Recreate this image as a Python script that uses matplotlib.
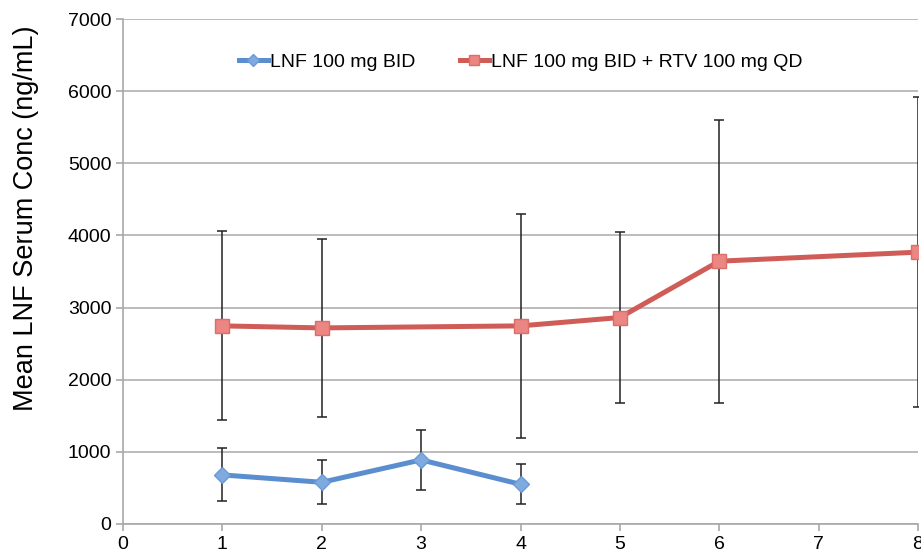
import matplotlib.pyplot as plt

plt.rcParams['font.family'] = ['Liberation Sans', 'DejaVu Sans']

# Data
x_lnf = [1, 2, 3, 4]
lnf = [680, 578, 888, 550]
lnf_hi = [1054, 883, 1300, 828]
lnf_lo = [323, 277, 467, 273]

x_rtv = [1, 2, 4, 5, 6, 8]
rtv = [2746, 2718, 2746, 2862, 3643, 3768]
rtv_hi = [4060, 3955, 4300, 4050, 5600, 5913]
rtv_lo = [1440, 1488, 1193, 1683, 1674, 1627]

lnf_err = [[m - lo for m, lo in zip(lnf, lnf_lo)], [hi - m for m, hi in zip(lnf, lnf_hi)]]
rtv_err = [[m - lo for m, lo in zip(rtv, rtv_lo)], [hi - m for m, hi in zip(rtv, rtv_hi)]]

fig = plt.figure(figsize=(9.21, 5.56), dpi=100)
ax = fig.add_axes([0.1336, 0.0576, 0.8631, 0.9082])

# Error bars first, then the lines on top
ax.errorbar(x_lnf, lnf, yerr=lnf_err, fmt='none', ecolor='#222222', elinewidth=1.1, capsize=3.3, capthick=1.1, zorder=2)
ax.errorbar(x_rtv, rtv, yerr=rtv_err, fmt='none', ecolor='#222222', elinewidth=1.1, capsize=3.3, capthick=1.1, zorder=2)

ax.plot(x_lnf, lnf, color='#5A8ECE', lw=3.6, marker='D', markersize=8.5,
        markerfacecolor='#7EAADF', markeredgecolor='#6A9AD6', label='LNF 100 mg BID', zorder=3)
ax.plot(x_rtv, rtv, color='#D05C58', lw=3.6, marker='s', markersize=9.5,
        markerfacecolor='#EC8682', markeredgecolor='#DA6E6A', label='LNF 100 mg BID + RTV 100 mg QD', zorder=3)

ax.set_xlim(0, 8)
ax.set_ylim(0, 7000)
ax.set_xticks(range(0, 9))
ax.set_yticks(range(0, 7001, 1000))
ax.yaxis.grid(True, color='#B0B0B0', lw=1.2)
ax.set_axisbelow(True)

for s in ['top', 'right']:
    ax.spines[s].set_visible(False)
for s in ['left', 'bottom']:
    ax.spines[s].set_color('#A8A8A8')
    ax.spines[s].set_linewidth(1.2)
ax.tick_params(axis='both', colors='#A8A8A8', length=5, width=1.2, labelsize=14, labelcolor='black')
ax.tick_params(axis='x', pad=4)

# y label sits a bit above the axes centre in the reference
ax.set_ylabel('Mean LNF Serum Conc (ng/mL)', fontsize=19.5)
ax.yaxis.set_label_coords(-0.106, 0.605)

ax.legend(loc='upper center', bbox_to_anchor=(0.5, 0.967), ncol=2, frameon=False, fontsize=14,
          handlelength=1.5, handletextpad=0.1, columnspacing=2.3, markerscale=0.75)

plt.savefig('out.png', dpi=100)
